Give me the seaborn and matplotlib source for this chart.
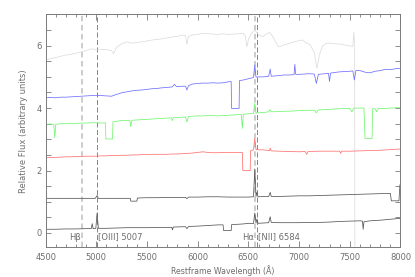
import matplotlib
matplotlib.use("Agg")
import matplotlib.pyplot as plt
import seaborn as sns
import pandas as pd
from matplotlib.ticker import MultipleLocator

# ---------------- data ----------------
wl_gray = [4500, 4550, 4600, 4650, 4700, 4750, 4800, 4850, 4900, 4950, 5000, 5050, 5100, 5150, 5170,
           5200, 5250, 5300, 5350, 5400, 5450, 5500, 5550, 5600, 5650, 5700, 5750, 5800, 5850, 5880,
           5893, 5910, 5950, 6000, 6050, 6100, 6150, 6200, 6250, 6300, 6350, 6400, 6450, 6470, 6485,
           6500, 6530, 6563, 6600, 6640, 6680, 6710, 6740, 6770, 6800, 6850, 6900, 6950, 7000, 7030,
           7080, 7110, 7150, 7175, 7200, 7230, 7270, 7300, 7350, 7400, 7450, 7500, 7530, 7540, 7548, 7550]
fl_gray = [5.55, 5.58, 5.62, 5.66, 5.70, 5.72, 5.76, 5.80, 5.84, 5.90, 5.86, 5.88, 5.87, 5.84, 5.74,
           5.95, 6.06, 6.12, 6.08, 6.10, 6.12, 6.15, 6.18, 6.20, 6.22, 6.25, 6.28, 6.30, 6.34, 6.32,
           6.05, 6.30, 6.34, 6.36, 6.39, 6.38, 6.37, 6.36, 6.38, 6.36, 6.37, 6.38, 6.39, 6.30, 5.96,
           6.20, 6.39, 6.50, 6.35, 6.28, 6.38, 6.42, 6.30, 6.10, 5.96, 6.02, 6.07, 6.12, 6.16, 6.18,
           6.08, 6.02, 5.78, 5.27, 5.70, 5.98, 6.07, 6.08, 6.06, 6.05, 6.02, 5.99, 5.98, 6.44, 6.00, -1.0]

wl_blue = [4500, 4550, 4600, 4650, 4700, 4750, 4800, 4850, 4900, 4950, 5000, 5050, 5100, 5150, 5200,
           5250, 5300, 5350, 5400, 5450, 5500, 5550, 5600, 5650, 5700, 5750, 5770, 5790, 5850, 5880,
           5893, 5910, 5950, 6000, 6050, 6100, 6150, 6200, 6250, 6300, 6330, 6334, 6408, 6412, 6450,
           6500, 6550, 6563, 6575, 6600, 6650, 6700, 6715, 6725, 6800, 6850, 6900, 6950, 6958, 6966,
           7000, 7050, 7100, 7150, 7170, 7190, 7250, 7290, 7300, 7310, 7350, 7400, 7450, 7500, 7530,
           7545, 7560, 7600, 7650, 7700, 7750, 7800, 7850, 7900, 7950, 8000]
fl_blue = [4.33, 4.34, 4.33, 4.35, 4.35, 4.36, 4.37, 4.38, 4.39, 4.40, 4.41, 4.40, 4.39, 4.38, 4.44,
           4.49, 4.52, 4.55, 4.57, 4.58, 4.60, 4.62, 4.63, 4.65, 4.66, 4.68, 4.76, 4.69, 4.70, 4.70,
           4.58, 4.72, 4.77, 4.79, 4.80, 4.80, 4.81, 4.80, 4.81, 4.84, 4.85, 3.99, 3.99, 4.88, 4.90,
           4.94, 4.98, 5.38, 4.99, 5.00, 5.00, 5.02, 5.25, 5.02, 5.04, 5.06, 5.06, 5.07, 5.40, 5.08,
           5.08, 5.09, 5.10, 5.09, 4.79, 5.08, 5.10, 5.11, 4.85, 5.12, 5.14, 5.16, 5.17, 5.18, 5.19,
           4.90, 5.20, 5.20, 5.15, 5.13, 5.18, 5.20, 5.24, 5.23, 5.26, 5.27]

wl_green = [4500, 4550, 4580, 4590, 4600, 4650, 4700, 4750, 4800, 4850, 4900, 4950, 5000, 5050, 5090,
            5094, 5160, 5164, 5200, 5250, 5300, 5330, 5340, 5350, 5400, 5450, 5500, 5550, 5600, 5650,
            5700, 5740, 5750, 5760, 5800, 5850, 5880, 5893, 5910, 5950, 6000, 6050, 6100, 6150, 6200,
            6250, 6300, 6350, 6400, 6430, 6440, 6450, 6500, 6550, 6563, 6575, 6600, 6650, 6700, 6715,
            6725, 6800, 6850, 6900, 6950, 7000, 7050, 7100, 7150, 7170, 7190, 7250, 7300, 7350, 7400,
            7450, 7500, 7520, 7540, 7600, 7640, 7650, 7720, 7725, 7750, 7765, 7780, 7850, 7900, 7950, 8000]
fl_green = [3.48, 3.49, 3.48, 3.05, 3.48, 3.50, 3.50, 3.51, 3.51, 3.52, 3.52, 3.53, 3.53, 3.52, 3.53,
            3.01, 3.01, 3.56, 3.58, 3.60, 3.60, 3.61, 3.40, 3.61, 3.62, 3.63, 3.64, 3.65, 3.66, 3.67,
            3.68, 3.69, 3.60, 3.69, 3.70, 3.71, 3.71, 3.56, 3.73, 3.74, 3.75, 3.75, 3.76, 3.76, 3.75,
            3.76, 3.77, 3.78, 3.79, 3.80, 3.35, 3.80, 3.82, 3.83, 4.15, 3.84, 3.85, 3.86, 3.88, 3.95,
            3.88, 3.89, 3.90, 3.90, 3.91, 3.92, 3.92, 3.93, 3.93, 3.85, 3.94, 3.95, 3.96, 3.97, 3.98,
            3.99, 3.99, 3.88, 4.00, 4.00, 4.00, 3.03, 3.03, 3.98, 3.98, 3.88, 3.99, 3.99, 4.00, 4.01, 4.01]

wl_red = [4500, 4550, 4600, 4650, 4700, 4750, 4800, 4850, 4900, 4950, 5000, 5050, 5100, 5150, 5200,
          5250, 5300, 5350, 5400, 5450, 5500, 5550, 5600, 5650, 5700, 5750, 5800, 5850, 5900, 5950,
          6000, 6050, 6100, 6150, 6200, 6250, 6300, 6350, 6400, 6440, 6445, 6518, 6522, 6550, 6563,
          6575, 6650, 6710, 6715, 6725, 6800, 6900, 7000, 7060, 7075, 7090, 7200, 7300, 7400, 7410,
          7420, 7500, 7600, 7700, 7800, 7900, 8000]
fl_red = [2.41, 2.42, 2.42, 2.43, 2.44, 2.44, 2.45, 2.45, 2.46, 2.46, 2.46, 2.47, 2.47, 2.48, 2.48,
          2.49, 2.49, 2.50, 2.50, 2.51, 2.51, 2.52, 2.52, 2.52, 2.52, 2.53, 2.53, 2.54, 2.55, 2.56,
          2.58, 2.60, 2.58, 2.57, 2.57, 2.58, 2.58, 2.58, 2.58, 2.58, 2.00, 2.00, 2.64, 2.66, 3.03,
          2.67, 2.66, 2.64, 2.72, 2.63, 2.62, 2.61, 2.60, 2.61, 2.52, 2.61, 2.62, 2.62, 2.62, 2.55,
          2.62, 2.62, 2.63, 2.64, 2.65, 2.67, 2.69]

wl_black1 = [4500, 4600, 4700, 4800, 4900, 4990, 5007, 5020, 5100, 5200, 5300, 5335, 5340, 5400, 5405,
             5500, 5600, 5700, 5800, 5880, 5893, 5910, 6000, 6100, 6200, 6300, 6400, 6500, 6550, 6563,
             6575, 6584, 6595, 6700, 6715, 6725, 6800, 6900, 7000, 7100, 7200, 7300, 7400, 7500, 7600,
             7700, 7800, 7900, 7910, 7985, 7995]
fl_black1 = [1.11, 1.11, 1.11, 1.11, 1.11, 1.11, 1.20, 1.11, 1.11, 1.11, 1.11, 1.11, 1.02, 1.02, 1.12,
             1.13, 1.13, 1.14, 1.14, 1.14, 1.10, 1.15, 1.15, 1.16, 1.16, 1.15, 1.15, 1.15, 1.16, 2.05,
             1.17, 1.30, 1.16, 1.17, 1.30, 1.17, 1.17, 1.18, 1.19, 1.19, 1.20, 1.21, 1.22, 1.23, 1.24,
             1.25, 1.26, 1.27, 1.03, 1.03, 1.55]

wl_black2 = [4500, 4600, 4700, 4800, 4900, 4950, 4959, 4968, 4995, 5007, 5020, 5100, 5200, 5300, 5400,
             5500, 5600, 5700, 5745, 5750, 5760, 5850, 5880, 5893, 5910, 6000, 6100, 6200, 6250, 6255,
             6330, 6335, 6400, 6450, 6500, 6550, 6563, 6575, 6584, 6595, 6700, 6715, 6725, 6800, 6900,
             7000, 7100, 7200, 7300, 7400, 7500, 7600, 7625, 7632, 7640, 7700, 7800, 7900, 8000]
fl_black2 = [0.12, 0.12, 0.13, 0.13, 0.14, 0.14, 0.30, 0.14, 0.15, 0.63, 0.15, 0.15, 0.16, 0.17, 0.17,
             0.17, 0.18, 0.18, 0.18, 0.10, 0.19, 0.20, 0.20, 0.14, 0.21, 0.22, 0.24, 0.26, 0.26, 0.08,
             0.08, 0.27, 0.28, 0.29, 0.31, 0.30, 0.64, 0.32, 0.45, 0.31, 0.33, 0.52, 0.34, 0.33, 0.33,
             0.33, 0.34, 0.34, 0.35, 0.37, 0.38, 0.39, 0.38, 0.12, 0.36, 0.39, 0.41, 0.44, 0.47]

line_names = ["H\u03b2", "[OIII] 5007", "H\u03b1", "[NII] 6584"]
line_wl = [4861, 5007, 6563, 6584]

# ---------------- plotting ----------------
sns.set_style("ticks")
plt.rcParams['font.family'] = ['DejaVu Sans']

fig = plt.figure(figsize=(4.15, 2.77), dpi=100)
ax = fig.add_axes([0.110, 0.107, 0.855, 0.841])

txt_col = '#6e6e6e'
spine_col = '#7a7a7a'

# emission line markers
ax.axvline(line_wl[0], color='#c8c8c8', lw=1.3, ls=(0, (3, 2)), zorder=1)
ax.axvline(line_wl[1], color='#707070', lw=0.6, ls=(0, (6, 3)), zorder=1)
ax.axvline(line_wl[2], color='#c8c8c8', lw=1.3, ls=(0, (3, 2)), zorder=1)
ax.axvline(line_wl[3], color='#707070', lw=0.6, ls=(0, (6, 3)), zorder=1)

spectra = [
    (wl_gray, fl_gray, '#dcdcdc'),
    (wl_blue, fl_blue, '#6e6eff'),
    (wl_green, fl_green, '#70f570'),
    (wl_red, fl_red, '#ff7070'),
    (wl_black1, fl_black1, '#555555'),
    (wl_black2, fl_black2, '#555555'),
]
for wl, fl, col in spectra:
    df = pd.DataFrame({'wl': wl, 'flux': fl})
    sns.lineplot(data=df, x='wl', y='flux', ax=ax, color=col, lw=0.55,
                 sort=False, estimator=None, zorder=2)

ax.set_xlim(4500, 8000)
ax.set_ylim(-0.46, 7.0)
ax.xaxis.set_major_locator(MultipleLocator(500))
ax.xaxis.set_minor_locator(MultipleLocator(100))
ax.yaxis.set_major_locator(MultipleLocator(2))
ax.yaxis.set_minor_locator(MultipleLocator(0.5))
ax.tick_params(which='both', direction='in', top=True, right=True,
               colors=spine_col, labelcolor=txt_col, labelsize=6, width=0.6)
ax.tick_params(axis='x', which='major', length=4, pad=4)
ax.tick_params(axis='x', which='minor', length=2)
ax.tick_params(axis='y', which='both', length=3.5, pad=3)
for s in ax.spines.values():
    s.set_color(spine_col)
    s.set_linewidth(0.7)

ax.set_xlabel("Restframe Wavelength (\u00c5)", fontsize=5.7, color=txt_col, labelpad=2)
ax.set_ylabel("Relative Flux (arbitrary units)", fontsize=6, color=txt_col, labelpad=6)

# line labels
ax.text(4850, -0.13, line_names[0], ha='right', va='center', fontsize=6, color=txt_col)
ax.text(5018, -0.13, line_names[1], ha='left', va='center', fontsize=6, color=txt_col)
ax.text(6553, -0.13, line_names[2], ha='right', va='center', fontsize=6, color=txt_col)
ax.text(6596, -0.13, line_names[3], ha='left', va='center', fontsize=6, color=txt_col)

fig.savefig("out.png", dpi=100)
